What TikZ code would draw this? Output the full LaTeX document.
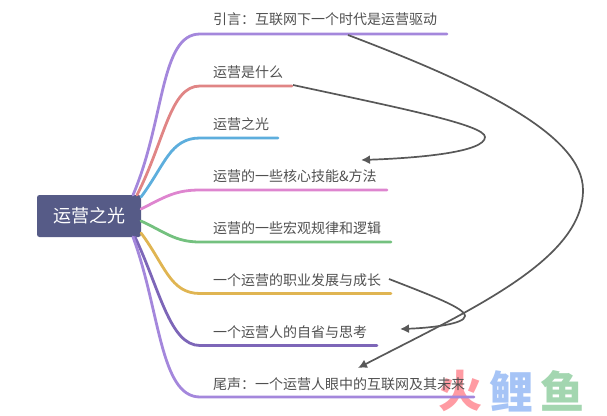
\documentclass[tikz,border=0pt]{standalone}
\usepackage{fontspec}
\setmainfont{Noto Sans CJK SC}
\usetikzlibrary{positioning,arrows.meta}
\definecolor{rootblue}{HTML}{565B87}
\definecolor{linkgray}{HTML}{585858}
\definecolor{textgray}{HTML}{505050}
\definecolor{bpurple}{HTML}{A487DC}
\definecolor{bred}{HTML}{E08585}
\definecolor{bblue}{HTML}{5DAEDD}
\definecolor{bpink}{HTML}{DE85CF}
\definecolor{bgreen}{HTML}{74C17F}
\definecolor{byellow}{HTML}{E0B552}
\definecolor{bviolet}{HTML}{7D66B8}
\definecolor{markred}{HTML}{FF9BA3}
\definecolor{markblue}{HTML}{A6C4F6}
\definecolor{markgreen}{HTML}{A3D6B0}
\tikzset{
  rootbox/.style={fill=rootblue, rounded corners=2.5pt, text=white, font=\fontsize{18}{18}\selectfont, minimum width=104pt, minimum height=42pt, inner sep=0pt},
  topic/.style={anchor=west, text=textgray, font=\fontsize{14}{14}\selectfont, inner sep=0pt},
  branch/.style={line width=2.8pt, line cap=round},
  linkline/.style={linkgray, line width=1.7pt, -{Latex[length=9pt,width=9pt]}},
  watermark/.style={font=\fontsize{44}{44}\bfseries\selectfont, inner sep=0pt}
}
\begin{document}
\begin{tikzpicture}[x=1pt, y=-1pt]
  \useasboundingbox (0,0) rectangle (607,415);

  % watermark
  \node[watermark, text=markred] (markfire) at (460,391) {火};
  \node[watermark, text=markblue] (markcarp) at (511,391) {鲤};
  \node[watermark, text=markgreen] (markfish) at (562,391) {鱼};

  \node[rootbox] (root) at (89,216) {运营之光};

  \node[topic] (intro) at (213,19.5) {引言：互联网下一个时代是运营驱动};
  \node[topic] (what) at (213,72) {运营是什么};
  \node[topic] (light) at (213,124) {运营之光};
  \node[topic] (skill) at (213,176) {运营的一些核心技能\&方法};
  \node[topic] (macro) at (213,228) {运营的一些宏观规律和逻辑};
  \node[topic] (career) at (213,280.5) {一个运营的职业发展与成长};
  \node[topic] (self) at (213,332) {一个运营人的自省与思考};
  \node[topic] (outro) at (213,384) {尾声：一个运营人眼中的互联网及其未来};

  \coordinate (introend) at (447,34);
  \coordinate (whatend) at (292,86);
  \coordinate (lightend) at (278,138);
  \coordinate (skillend) at (387,190);
  \coordinate (macroend) at (391,242);
  \coordinate (careerend) at (391,293.5);
  \coordinate (selfend) at (377,345.5);
  \coordinate (outroend) at (474,397);

  \draw[branch, bpurple] (133,195) .. controls (165,120) and (160,34) .. (200,34) -- (introend);
  \draw[branch, bred] (137,195) .. controls (165,140) and (170,86) .. (200,86) -- (whatend);
  \draw[branch, bblue] (141,197) .. controls (165,165) and (170,138) .. (200,138) -- (lightend);
  \draw[branch, bpink] (141,209) .. controls (165,197) and (175,190) .. (200,190) -- (skillend);
  \draw[branch, bgreen] (141,221) .. controls (165,232) and (175,242) .. (200,242) -- (macroend);
  \draw[branch, byellow] (141,233) .. controls (165,265) and (170,293.5) .. (200,293.5) -- (careerend);
  \draw[branch, bviolet] (135,237) .. controls (160,290) and (170,345.5) .. (200,345.5) -- (selfend);
  \draw[branch, bpurple] (133,237) .. controls (160,310) and (160,397) .. (200,397) -- (outroend);

  \coordinate (introlink) at (348,35);
  \coordinate (outrotip) at (358,368);
  \coordinate (whatlink) at (293,85);
  \coordinate (skilltip) at (361,160);
  \coordinate (careerlink) at (389,279);
  \coordinate (selftip) at (400,329);

  \draw[linkline] (introlink) .. controls (480,85) and (583,135) .. (583,190) .. controls (583,260) and (470,310) .. (outrotip);
  \draw[linkline] (whatlink) .. controls (400,108) and (485,125) .. (485,137) .. controls (485,152) and (420,158) .. (skilltip);
  \draw[linkline] (careerlink) .. controls (430,295) and (465,308) .. (465,316) .. controls (465,324) and (430,328) .. (selftip);
\end{tikzpicture}
\end{document}
